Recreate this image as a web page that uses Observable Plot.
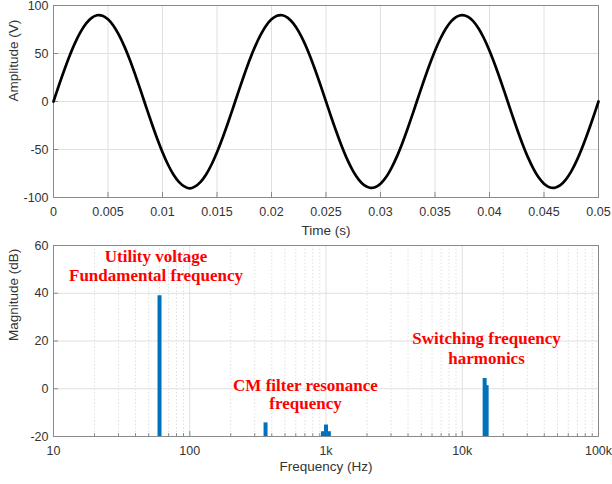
<!DOCTYPE html>
<html>
<head>
<meta charset="utf-8">
<script src="https://cdn.jsdelivr.net/npm/d3@7"></script>
<script src="https://cdn.jsdelivr.net/npm/@observablehq/plot@0.6"></script>
<style>
  html, body { margin: 0; padding: 0; background: #fff; overflow: hidden; }
  #chart { position: relative; width: 612px; height: 484px; }
  #chart svg { display: block; font-family: 'Liberation Sans', Arial, Helvetica, sans-serif; }
  #chart svg.overlay { position: absolute; left: 0; top: 240px; pointer-events: none; }
</style>
</head>
<body>
<div id="chart"></div>
<script>
// ---- Top panel: time-domain waveform (sampled every 0.5 ms) ----
const sampleInterval = 0.0005; // s
const amplitude = [
  0, 16.9, 33.1, 48.2, 61.6, 72.8, 81.4, 87.2, 89.8, 89.3, 85.6, 78.9, 69.3, 57.4, 43.4, 27.8, 11.3,
  -5.7, -22.4, -38.3, -52.9, -65.6, -76.0, -83.7, -88.4, -90.5, -88.4, -83.7, -76.0, -65.6, -52.9, -38.3,
  -22.4, -5.7, 11.3, 27.8, 43.4, 57.4, 69.3, 78.9, 85.6, 89.3, 89.8, 87.2, 81.4, 72.8, 61.6, 48.2, 33.1,
  16.9, 0,
  -16.9, -33.1, -48.2, -61.6, -72.8, -81.4, -87.2, -89.8, -89.3, -85.6, -78.9, -69.3, -57.4, -43.4, -27.8,
  -11.3, 5.7, 22.4, 38.3, 52.9, 65.6, 76.0, 83.7, 88.4, 90, 88.4, 83.7, 76.0, 65.6, 52.9, 38.3, 22.4, 5.7,
  -11.3, -27.8, -43.4, -57.4, -69.3, -78.9, -85.6, -89.3, -89.8, -87.2, -81.4, -72.8, -61.6, -48.2, -33.1,
  -16.9, 0
];
const timeTicks = [0, 0.005, 0.01, 0.015, 0.02, 0.025, 0.03, 0.035, 0.04, 0.045, 0.05];
const timeTickLabels = ["0", "0.005", "0.01", "0.015", "0.02", "0.025", "0.03", "0.035", "0.04", "0.045", "0.05"];
const ampTicks = [-100, -50, 0, 50, 100];

// ---- Bottom panel: spectrum ----
const freqs = [60, 360, 950, 1000, 1050, 14600, 15100];           // Hz
const mags  = [39, -14.3, -18, -15.2, -18, 4.3, 1.3];             // dB
const freqTicks = [10, 100, 1000, 10000, 100000];
const freqTickLabels = ["10", "100", "1k", "10k", "100k"];
const freqMinor = [20,30,40,50,60,70,80,90,200,300,400,500,600,700,800,900,
  2000,3000,4000,5000,6000,7000,8000,9000,20000,30000,40000,50000,60000,70000,80000,90000];
const magTicks = [-20, 0, 20, 40, 60];

// ---- Annotations ----
const annotationLines = ["Utility voltage", "Fundamental frequency", "CM filter resonance", "frequency",
  "Switching frequency", "harmonics"];

const serif = "'Liberation Serif', 'Times New Roman', serif";
const gridColor = "#e0e0e0";
const frameColor = "#8a8a8a";
const textColor = "#333";
const blue = "#0072BD";
const red = "#ff0000";

const wave = amplitude.map((v, i) => ({t: i * sampleInterval, v}));
const spectrum = freqs.map((f, i) => ({f, m: mags[i]}));
const freqLabelRows = freqTicks.map((f, i) => ({f, label: freqTickLabels[i]}));
const timeLabelRows = timeTicks.map((t, i) => ({t, label: timeTickLabels[i]}));
const magLabelRows = magTicks.map((m) => ({m, label: String(m)}));

const topPlot = Plot.plot({
  width: 612, height: 240,
  marginLeft: 53, marginRight: 14, marginTop: 5, marginBottom: 43,
  x: {domain: [0, 0.05], axis: null},
  y: {domain: [-100, 100], axis: null},
  marks: [
    Plot.ruleX(timeTicks, {stroke: gridColor}),
    Plot.ruleY(ampTicks, {stroke: gridColor}),
    Plot.ruleX(timeTicks, {y1: -100, y2: -94.8, stroke: frameColor}),
    Plot.ruleY(ampTicks, {x1: 0, x2: 0.00046, stroke: frameColor}),
    Plot.frame({stroke: frameColor}),
    Plot.line(wave, {x: "t", y: "v", stroke: "#000", strokeWidth: 2.7, curve: "catmull-rom"}),
    Plot.text(timeLabelRows, {x: "t", y: -100, text: "label", dy: 14, fontSize: 12.5, fill: textColor}),
    Plot.text(ampTicks, {x: 0, y: (d) => d, text: (d) => String(d), dx: -5, textAnchor: "end", fontSize: 12.5, fill: textColor}),
    Plot.text(["Time (s)"], {frameAnchor: "bottom", dy: 37, fontSize: 13.5, fill: textColor}),
    Plot.text(["Amplitude (V)"], {frameAnchor: "left", dx: -40, rotate: -90, fontSize: 13.5, fill: textColor})
  ]
});

const bottomOptions = {
  width: 612, height: 244,
  marginLeft: 53, marginRight: 14, marginTop: 5, marginBottom: 48,
  x: {type: "log", domain: [10, 100000], axis: null},
  y: {domain: [-20, 60], axis: null}
};

const bottomPlot = Plot.plot({
  ...bottomOptions,
  marks: [
    Plot.ruleX(freqTicks, {stroke: gridColor}),
    Plot.ruleY(magTicks, {stroke: gridColor}),
    Plot.ruleX(freqMinor, {stroke: gridColor, strokeDasharray: "1.5,2"}),
    Plot.frame({stroke: frameColor}),
    Plot.ruleX(freqMinor, {y1: -20, y2: -18.8, stroke: frameColor}),
    Plot.ruleX(freqTicks, {y1: -20, y2: -17.9, stroke: frameColor}),
    Plot.ruleY(magTicks, {x1: 10, x2: 10.9, stroke: frameColor}),
    Plot.ruleX(spectrum, {x: "f", y1: -20, y2: "m", stroke: blue, strokeWidth: 4}),
    Plot.text(freqLabelRows, {x: "f", y: -20, text: "label", dy: 14, fontSize: 12.5, fill: textColor}),
    Plot.text(magLabelRows, {x: 10, y: "m", text: "label", dx: -5, textAnchor: "end", fontSize: 12.5, fill: textColor}),
    Plot.text(["Frequency (Hz)"], {frameAnchor: "bottom", dy: 34, fontSize: 13.5, fill: textColor}),
    Plot.text(["Magnitude (dB)"], {frameAnchor: "left", dx: -40, rotate: -90, fontSize: 13.5, fill: textColor})
  ]
});

// red annotations in a transparent overlay sharing the same scales
const annFont = {fontFamily: serif, fontWeight: "bold", fontSize: 17, fill: red};
const overlayPlot = Plot.plot({
  ...bottomOptions,
  className: "overlay",
  style: {background: "none"},
  marks: [
    Plot.text([annotationLines[0]], {x: 56.5, y: 55.5, ...annFont}),
    Plot.text([annotationLines[1]], {x: 56.5, y: 47.6, ...annFont}),
    Plot.text([annotationLines[2]], {x: 707, y: 1.4, ...annFont}),
    Plot.text([annotationLines[3]], {x: 707, y: -6.2, ...annFont}),
    Plot.text([annotationLines[4]], {x: 15070, y: 21, ...annFont}),
    Plot.text([annotationLines[5]], {x: 15070, y: 12.7, ...annFont})
  ]
});
overlayPlot.classList.add("overlay");

const chart = document.getElementById("chart");
chart.appendChild(topPlot);
chart.appendChild(bottomPlot);
chart.appendChild(overlayPlot);
</script>
</body>
</html>
